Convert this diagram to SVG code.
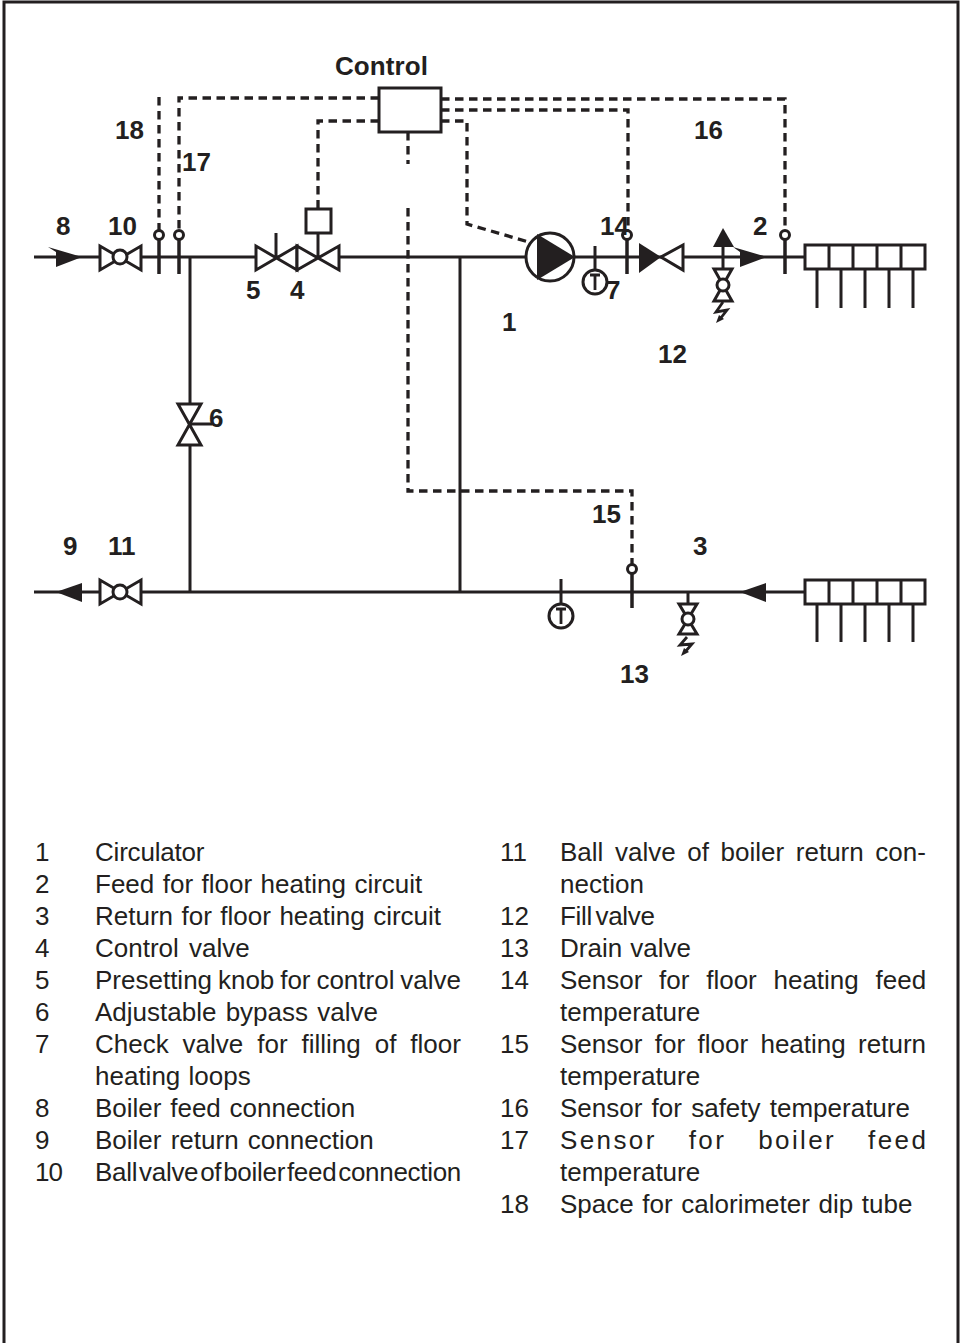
<svg xmlns="http://www.w3.org/2000/svg" width="960" height="1343" viewBox="0 0 960 1343">
<style>
.l{fill:none;stroke:#231f20;stroke-width:3}
.s{fill:none;stroke:#231f20;stroke-width:3.5}
.b{fill:none;stroke:#231f20;stroke-width:2.8}
.o{fill:#fff;stroke:#231f20;stroke-width:3;stroke-linejoin:miter}
.f{fill:#231f20;stroke:none}
.d{fill:none;stroke:#231f20;stroke-width:3.3;stroke-dasharray:8.5 5.5}
.n{font:bold 26px "Liberation Sans",Arial,sans-serif;fill:#231f20}
.t{font:26px "Liberation Sans",Arial,sans-serif;fill:#231f20}
</style>
<rect width="960" height="1343" fill="#fff"/>
<path class="l" d="M4 1343V2H958V1343"/>
<g id="connectors">
<path class="l" d="M34 257H805M190 257V592M34 592H805M460 257V592"/>
<path class="d" d="M159 97V230M379 98H179V230M379 121H318V209M441 99H785V230M441 110H628V230M441 121H467V224L532 243M408 132V164M408 208V491H632V564"/>
</g>
<g id="arrow8"><path class="f" d="M48 247L82 257L56 267L56 252Z"/></g>
<g id="valve10"><path class="o" d="M100 246V270L141 246V270Z"/><circle class="o" cx="120" cy="257" r="7"/></g>
<g id="sensor18"><path class="s" d="M159 240V274"/><circle class="o" cx="159" cy="235" r="4.5"/></g>
<g id="sensor17"><path class="s" d="M179 240V274"/><circle class="o" cx="179" cy="235" r="4.5"/></g>
<g id="valve5"><path class="o" d="M256 246V270L297 246V270Z"/><path class="l" d="M276 233V257"/></g>
<g id="valve4"><path class="o" d="M297 246V270L339 246V270Z"/><path class="l" d="M318 233V257"/><rect class="o" x="306" y="209" width="25" height="24"/></g>
<g id="valve6"><path class="o" d="M178 404H201L178 445H201Z"/><path class="l" d="M190 424H212"/></g>
<g id="pump"><circle class="o" cx="550" cy="257" r="24"/><path class="f" d="M537 234L575 257L537 280Z"/></g>
<g id="gauge7"><path class="l" d="M595 246V271"/><circle class="o" cx="595" cy="282" r="12"/><path class="b" d="M590 275H600M595 275V290"/></g>
<g id="sensor14"><path class="s" d="M627 240V274"/><circle class="o" cx="627" cy="235" r="4.5"/></g>
<g id="check"><path class="f" d="M639 243L661 257L639 273Z"/><path class="o" d="M683 245V270L661 257Z"/></g>
<g id="fill12"><path class="l" d="M723 240V268"/><path class="f" d="M713 247L723 228L734 247Z"/><path class="o" d="M714 269H732L714 301H732Z"/><circle class="o" cx="723" cy="285" r="6"/><path class="b" d="M723 302L716 312L727 310L720 319"/><path class="f" d="M716 323L724 319L719 315Z"/></g>
<g id="arrow2"><path class="f" d="M733 247L767 257L740 267L740 252Z"/></g>
<g id="sensor2"><path class="s" d="M785 240V274"/><circle class="o" cx="785" cy="235" r="4.5"/></g>
<g id="manifold1"><rect class="o" x="805" y="245" width="120" height="24"/><path class="l" d="M829 245V269M853 245V269M877 245V269M901 245V269M817 269V308M841 269V308M865 269V308M889 269V308M913 269V308"/></g>
<g id="arrow9"><path class="f" d="M56 592L82 583V602Z"/></g>
<g id="valve11"><path class="o" d="M100 580V604L141 580V604Z"/><circle class="o" cx="120" cy="592" r="7"/></g>
<g id="gauge"><path class="l" d="M561 579V605"/><circle class="o" cx="561" cy="616" r="12"/><path class="b" d="M556 609H566M561 609V624"/></g>
<g id="sensor15"><path class="s" d="M632 574V608"/><circle class="o" cx="632" cy="569" r="4.5"/></g>
<g id="drain13"><path class="l" d="M688 592V603"/><path class="o" d="M679 604H697L679 634H697Z"/><circle class="o" cx="688" cy="619" r="6"/><path class="b" d="M687 637L680 645L692 644L685 652"/><path class="f" d="M681 656L689 652L684 648Z"/></g>
<g id="arrow3"><path class="f" d="M740 592L766 583V602Z"/></g>
<g id="manifold2"><rect class="o" x="805" y="580" width="120" height="24"/><path class="l" d="M829 580V604M853 580V604M877 580V604M901 580V604M817 604V642M841 604V642M865 604V642M889 604V642M913 604V642"/></g>
<g id="control"><rect class="o" x="379" y="88" width="62" height="44"/></g>
<g id="labels">
<text class="n" x="335" y="75" textLength="93">Control</text>
<text class="n" x="115" y="139">18</text><text class="n" x="182" y="171">17</text><text class="n" x="694" y="139">16</text>
<text class="n" x="56" y="235">8</text><text class="n" x="108" y="235">10</text><text class="n" x="600" y="235">14</text><text class="n" x="753" y="235">2</text>
<text class="n" x="246" y="299">5</text><text class="n" x="290" y="299">4</text><text class="n" x="606" y="299">7</text>
<text class="n" x="502" y="331">1</text><text class="n" x="658" y="363">12</text><text class="n" x="209" y="427">6</text>
<text class="n" x="592" y="523">15</text><text class="n" x="63" y="555">9</text><text class="n" x="108" y="555">11</text><text class="n" x="693" y="555">3</text><text class="n" x="620" y="683">13</text>
</g>
<g id="legend">
<text class="t" x="35" y="861">1</text><text class="t" x="95" y="861" letter-spacing="-0.2">Circulator</text>
<text class="t" x="35" y="893">2</text><text class="t" x="95" y="893" word-spacing="1.25">Feed for floor heating circuit</text>
<text class="t" x="35" y="925">3</text><text class="t" x="95" y="925" word-spacing="1.25">Return for floor heating circuit</text>
<text class="t" x="35" y="957">4</text><text class="t" x="95" y="957" word-spacing="3">Control valve</text>
<text class="t" x="35" y="989">5</text><text class="t" x="95" y="989" word-spacing="-1.35">Presetting knob for control valve</text>
<text class="t" x="35" y="1021">6</text><text class="t" x="95" y="1021" word-spacing="2">Adjustable bypass valve</text>
<text class="t" x="35" y="1053">7</text><text class="t" x="95" y="1053" word-spacing="6.7">Check valve for filling of floor</text>
<text class="t" x="95" y="1085" word-spacing="1">heating loops</text>
<text class="t" x="35" y="1117">8</text><text class="t" x="95" y="1117" word-spacing="1.5">Boiler feed connection</text>
<text class="t" x="35" y="1149">9</text><text class="t" x="95" y="1149" word-spacing="2">Boiler return connection</text>
<text class="t" x="35" y="1181" letter-spacing="-1">10</text><text class="t" x="95" y="1181" letter-spacing="-0.3" word-spacing="-5">Ball valve of boiler feed connection</text>
<text class="t" x="500" y="861">11</text><text class="t" x="560" y="861" word-spacing="4.4">Ball valve of boiler return con-</text>
<text class="t" x="560" y="893">nection</text>
<text class="t" x="500" y="925">12</text><text class="t" x="560" y="925" letter-spacing="-0.3" word-spacing="-3.5">Fill valve</text>
<text class="t" x="500" y="957">13</text><text class="t" x="560" y="957" word-spacing="1">Drain valve</text>
<text class="t" x="500" y="989">14</text><text class="t" x="560" y="989" word-spacing="9.5">Sensor for floor heating feed</text>
<text class="t" x="560" y="1021">temperature</text>
<text class="t" x="500" y="1053">15</text><text class="t" x="560" y="1053" word-spacing="5.15">Sensor for floor heating return</text>
<text class="t" x="560" y="1085">temperature</text>
<text class="t" x="500" y="1117">16</text><text class="t" x="560" y="1117" word-spacing="2">Sensor for safety temperature</text>
<text class="t" x="500" y="1149">17</text><text class="t" x="560" y="1149" letter-spacing="2.4" word-spacing="22.3">Sensor for boiler feed</text>
<text class="t" x="560" y="1181">temperature</text>
<text class="t" x="500" y="1213">18</text><text class="t" x="560" y="1213" word-spacing="1.4">Space for calorimeter dip tube</text>
</g>
</svg>
